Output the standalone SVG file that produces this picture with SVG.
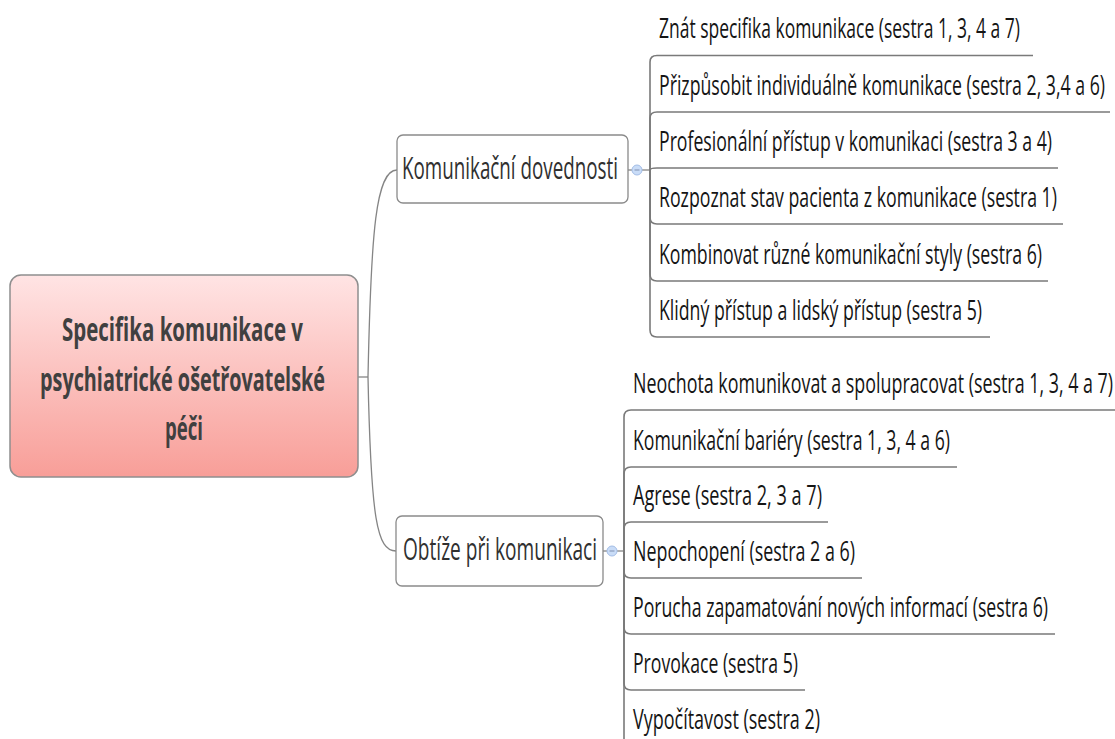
<svg xmlns="http://www.w3.org/2000/svg" width="1115" height="739" viewBox="0 0 1115 739">
<defs>
<linearGradient id="rootGrad" x1="0" y1="0" x2="0" y2="1">
<stop offset="0" stop-color="#FFE4E4"/>
<stop offset="1" stop-color="#F89E98"/>
</linearGradient>
</defs>
<style>
.conn{fill:none;stroke:#858585;stroke-width:1.3}
.uline{fill:none;stroke:#7a7a7a;stroke-width:1.6}
.leaf{font-family:"Open Sans","Liberation Sans",sans-serif;font-size:17.5px;fill:#151515}
.branch{font-family:"Open Sans","Liberation Sans",sans-serif;font-size:19.8px;fill:#303030}
.rootT{font-family:"Open Sans","Liberation Sans",sans-serif;font-size:19.5px;font-weight:bold;fill:#404040}
.bbox{fill:#ffffff;stroke:#8a8a8a;stroke-width:1.3}
.coll{fill:#c9dcf7;stroke:#a3bde6;stroke-width:1}
.collm{stroke:#7f8fb0;stroke-width:1}
</style>
<rect width="1115" height="739" fill="#ffffff"/>

<g id="connectors">
<path class="conn" d="M358,377 L368,377"/>
<path class="conn" d="M368,377 C371,230 376,170 397,170"/>
<path class="conn" d="M368,377 C371,520 377,551 396,551"/>
<path class="conn" d="M628,170 L632,170"/>
<path class="conn" d="M642,170 L650,170"/>
<path class="conn" d="M603,551 L607,551"/>
<path class="conn" d="M617,551 L624,551"/>
<!-- top group -->
<path class="uline" d="M650,170 L650,62 Q650,55.5 657,55.5 L1033,55.5"/>
<path class="uline" d="M650,170 L650,118 Q650,112 657,112 L1110,112"/>
<path class="uline" d="M650,170 Q650,168 657,168 L1058,168"/>
<path class="uline" d="M650,170 L650,217 Q650,224 657,224 L1063,224"/>
<path class="uline" d="M650,170 L650,274 Q650,281 657,281 L1048,281"/>
<path class="uline" d="M650,170 L650,330 Q650,337 657,337 L990,337"/>
<!-- bottom group -->
<path class="uline" d="M624,551 L624,417 Q624,410 631,410 L1115,410"/>
<path class="uline" d="M624,551 L624,474 Q624,467 631,467 L957,467"/>
<path class="uline" d="M624,551 L624,529 Q624,522 631,522 L828,522"/>
<path class="uline" d="M624,551 L624,571 Q624,578 631,578 L862,578"/>
<path class="uline" d="M624,551 L624,627 Q624,634 631,634 L1055,634"/>
<path class="uline" d="M624,551 L624,683 Q624,690 631,690 L805,690"/>
<path class="uline" d="M624,551 L624,739 Q624,746 631,746 L830,746"/>
</g>

<g id="root">
<rect x="10" y="275" width="348" height="202" rx="11" fill="url(#rootGrad)" stroke="#8e8e8e" stroke-width="1.5"/>
<text class="rootT" transform="translate(62,341) scale(1,1.65)" textLength="241" lengthAdjust="spacingAndGlyphs">Specifika komunikace v</text>
<text class="rootT" transform="translate(40,391) scale(1,1.65)" textLength="285" lengthAdjust="spacingAndGlyphs">psychiatrické ošetřovatelské</text>
<text class="rootT" transform="translate(165,440) scale(1,1.65)" textLength="38" lengthAdjust="spacingAndGlyphs">péči</text>
</g>

<g id="branch-komunikacni">
<rect class="bbox" x="397" y="135" width="231" height="68" rx="6"/>
<text class="branch" transform="translate(402,179) scale(1,1.6)" textLength="216" lengthAdjust="spacingAndGlyphs">Komunikační dovednosti</text>
<circle class="coll" cx="637" cy="170" r="5"/>
<line class="collm" x1="634.5" y1="170" x2="639.5" y2="170"/>
</g>

<g id="branch-obtize">
<rect class="bbox" x="396" y="516" width="207" height="70" rx="6"/>
<text class="branch" transform="translate(403,560) scale(1,1.6)" textLength="194" lengthAdjust="spacingAndGlyphs">Obtíže při komunikaci</text>
<circle class="coll" cx="612" cy="551" r="5"/>
<line class="collm" x1="609.5" y1="551" x2="614.5" y2="551"/>
</g>

<g id="leaf-t1"><text class="leaf" transform="translate(659,38) scale(1,1.6)" textLength="361" lengthAdjust="spacingAndGlyphs">Znát specifika komunikace (sestra 1, 3, 4 a 7)</text></g>
<g id="leaf-t2"><text class="leaf" transform="translate(659,94.5) scale(1,1.6)" textLength="446" lengthAdjust="spacingAndGlyphs">Přizpůsobit individuálně komunikace (sestra 2, 3,4 a 6)</text></g>
<g id="leaf-t3"><text class="leaf" transform="translate(659,150.5) scale(1,1.6)" textLength="393" lengthAdjust="spacingAndGlyphs">Profesionální přístup v komunikaci (sestra 3 a 4)</text></g>
<g id="leaf-t4"><text class="leaf" transform="translate(659,206.5) scale(1,1.6)" textLength="398" lengthAdjust="spacingAndGlyphs">Rozpoznat stav pacienta z komunikace (sestra 1)</text></g>
<g id="leaf-t5"><text class="leaf" transform="translate(659,263.5) scale(1,1.6)" textLength="383" lengthAdjust="spacingAndGlyphs">Kombinovat různé komunikační styly (sestra 6)</text></g>
<g id="leaf-t6"><text class="leaf" transform="translate(659,319.5) scale(1,1.6)" textLength="323" lengthAdjust="spacingAndGlyphs">Klidný přístup a lidský přístup (sestra 5)</text></g>

<g id="leaf-b1"><text class="leaf" transform="translate(633,392.5) scale(1,1.6)" textLength="480" lengthAdjust="spacingAndGlyphs">Neochota komunikovat a spolupracovat (sestra 1, 3, 4 a 7)</text></g>
<g id="leaf-b2"><text class="leaf" transform="translate(633,449.5) scale(1,1.6)" textLength="317" lengthAdjust="spacingAndGlyphs">Komunikační bariéry (sestra 1, 3, 4 a 6)</text></g>
<g id="leaf-b3"><text class="leaf" transform="translate(633,504.5) scale(1,1.6)" textLength="189" lengthAdjust="spacingAndGlyphs">Agrese (sestra 2, 3 a 7)</text></g>
<g id="leaf-b4"><text class="leaf" transform="translate(633,560.5) scale(1,1.6)" textLength="222" lengthAdjust="spacingAndGlyphs">Nepochopení (sestra 2 a 6)</text></g>
<g id="leaf-b5"><text class="leaf" transform="translate(633,616.5) scale(1,1.6)" textLength="415" lengthAdjust="spacingAndGlyphs">Porucha zapamatování nových informací (sestra 6)</text></g>
<g id="leaf-b6"><text class="leaf" transform="translate(633,672.5) scale(1,1.6)" textLength="165" lengthAdjust="spacingAndGlyphs">Provokace (sestra 5)</text></g>
<g id="leaf-b7"><text class="leaf" transform="translate(633,728.5) scale(1,1.6)" textLength="187" lengthAdjust="spacingAndGlyphs">Vypočítavost (sestra 2)</text></g>
</svg>
